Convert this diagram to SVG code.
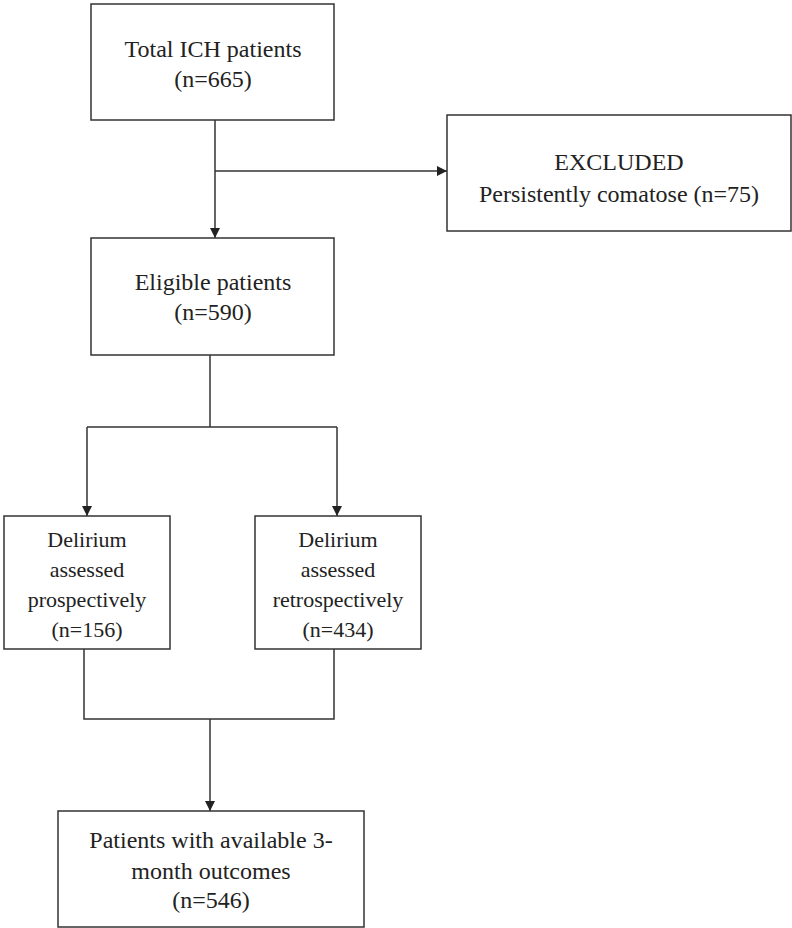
<svg xmlns="http://www.w3.org/2000/svg" width="792" height="928" viewBox="0 0 792 928">
<style>
.box{fill:#fff;stroke:#333;stroke-width:1.5}
.ln{fill:none;stroke:#333;stroke-width:1.5}
.t{font-family:'Liberation Serif','Times New Roman',serif;font-size:24px;fill:#222;text-anchor:middle}
.s{font-size:22px}
</style>
<defs>
<marker id="arr" viewBox="0 0 10 10" refX="10" refY="5" markerWidth="10" markerHeight="10" markerUnits="userSpaceOnUse" orient="auto">
<path d="M0,0 L10,5 L0,10 Z" fill="#222"/>
</marker>
</defs>
<rect width="792" height="928" fill="#fff"/>
<g id="connectors">
<path class="ln" d="M215,120 V238" marker-end="url(#arr)"/>
<path class="ln" d="M215,171 H447" marker-end="url(#arr)"/>
<path class="ln" d="M210,355 V427"/>
<path class="ln" d="M87,427 H337"/>
<path class="ln" d="M87,427 V516" marker-end="url(#arr)"/>
<path class="ln" d="M337,427 V516" marker-end="url(#arr)"/>
<path class="ln" d="M84,649 V719 H334 V649"/>
<path class="ln" d="M210,719 V811" marker-end="url(#arr)"/>
</g>
<g id="total">
<rect class="box" x="91" y="4" width="243" height="116"/>
<text class="t" x="213" y="57">Total ICH patients</text>
<text class="t" x="213" y="87">(n=665)</text>
</g>
<g id="excluded">
<rect class="box" x="447" y="115" width="344" height="116"/>
<text class="t" x="619" y="170">EXCLUDED</text>
<text class="t" x="619" y="202">Persistently comatose (n=75)</text>
</g>
<g id="eligible">
<rect class="box" x="91" y="238" width="243" height="117"/>
<text class="t" x="213" y="290">Eligible patients</text>
<text class="t" x="213" y="320">(n=590)</text>
</g>
<g id="prospective">
<rect class="box" x="4" y="516" width="166" height="133"/>
<text class="t s" x="87" y="547">Delirium</text>
<text class="t s" x="87" y="577">assessed</text>
<text class="t s" x="87" y="607">prospectively</text>
<text class="t s" x="87" y="637">(n=156)</text>
</g>
<g id="retrospective">
<rect class="box" x="255" y="516" width="166" height="133"/>
<text class="t s" x="338" y="547">Delirium</text>
<text class="t s" x="338" y="577">assessed</text>
<text class="t s" x="338" y="607">retrospectively</text>
<text class="t s" x="338" y="637">(n=434)</text>
</g>
<g id="outcomes">
<rect class="box" x="58" y="811" width="306" height="116"/>
<text class="t" x="211" y="848">Patients with available 3-</text>
<text class="t" x="211" y="879">month outcomes</text>
<text class="t" x="211" y="908">(n=546)</text>
</g>
</svg>
